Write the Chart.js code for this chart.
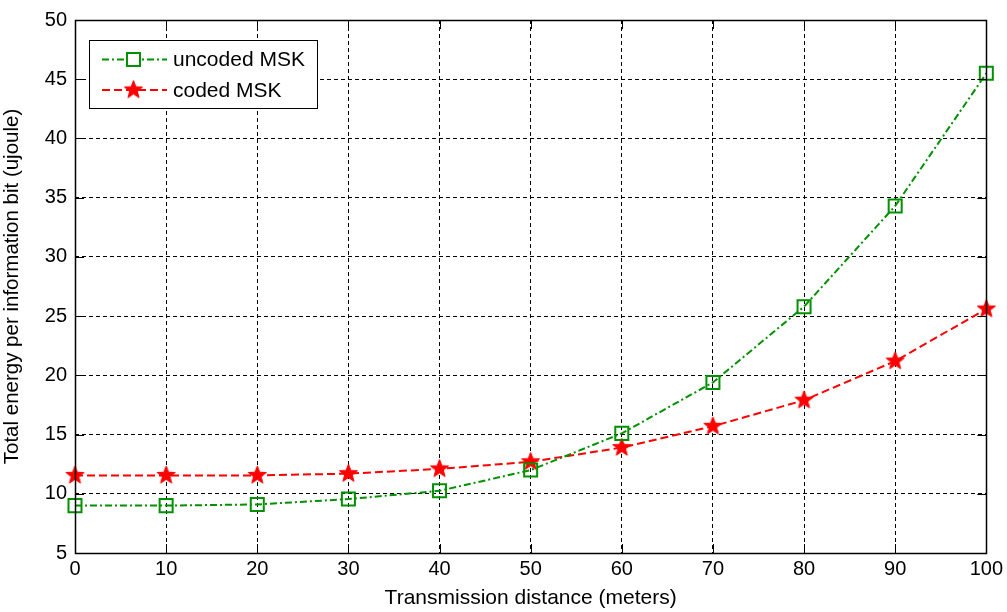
<!DOCTYPE html>
<html>
<head>
<meta charset="utf-8">
<script src="https://cdn.jsdelivr.net/npm/chart.js@4/dist/chart.umd.min.js"></script>
<style>
  html, body { margin: 0; padding: 0; background: #fff; }
  canvas { display: block; }
</style>
</head>
<body>
<canvas id="c" width="1007" height="612"></canvas>
<script>
// distances (meters)
const distances = [0, 10, 20, 30, 40, 50, 60, 70, 80, 90, 100];
// total energy per information bit (ujoule)
const uncodedMSK = [9.0, 9.0, 9.1, 9.55, 10.25, 12.0, 15.1, 19.4, 25.8, 34.3, 45.5];
const codedMSK = [11.55, 11.55, 11.55, 11.7, 12.1, 12.7, 13.9, 15.7, 17.9, 21.2, 25.6];
const seriesNames = ['uncoded MSK', 'coded MSK'];
const xTicks = [0, 10, 20, 30, 40, 50, 60, 70, 80, 90, 100];
const yTicks = [5, 10, 15, 20, 25, 30, 35, 40, 45, 50];

const GREEN = '#009100';
const RED = '#ff0000';
const FONT = 'Arial, "Liberation Sans", sans-serif';

// MATLAB-style filled pentagram marker
function makeStar(r, color) {
    const size = Math.ceil(r * 2 + 2);
    const cv = document.createElement('canvas');
    cv.width = size; cv.height = size;
    const g = cv.getContext('2d');
    const cx = size / 2, cy = size / 2, ri = r * 0.42;
    g.beginPath();
    for (let i = 0; i < 10; i++) {
        const rad = i % 2 === 0 ? r : ri;
        const a = -Math.PI / 2 + i * Math.PI / 5;
        const px = cx + rad * Math.cos(a), py = cy + rad * Math.sin(a);
        if (i === 0) g.moveTo(px, py); else g.lineTo(px, py);
    }
    g.closePath();
    g.fillStyle = color;
    g.fill();
    g.strokeStyle = color;
    g.lineWidth = 1;
    g.stroke();
    return cv;
}
const starImg = makeStar(9.5, RED);

// box + inner tick marks like MATLAB axes
const axesBox = {
    id: 'axesBox',
    afterDatasetsDraw(chart) {
        const { ctx, chartArea: a, scales } = chart;
        ctx.save();
        ctx.strokeStyle = '#000';
        ctx.lineWidth = 1;
        ctx.setLineDash([]);
        ctx.beginPath();
        const tl = 9;
        xTicks.forEach(v => {
            const x = Math.round(scales.x.getPixelForValue(v)) + 0.5;
            ctx.moveTo(x, a.bottom); ctx.lineTo(x, a.bottom - tl);
            ctx.moveTo(x, a.top); ctx.lineTo(x, a.top + tl);
        });
        yTicks.forEach(v => {
            const y = Math.round(scales.y.getPixelForValue(v)) + 0.5;
            ctx.moveTo(a.left, y); ctx.lineTo(a.left + tl, y);
            ctx.moveTo(a.right, y); ctx.lineTo(a.right - tl, y);
        });
        ctx.stroke();
        ctx.lineWidth = 1.5;
        ctx.strokeRect(Math.round(a.left) + 0.5, Math.round(a.top) + 0.5,
            Math.round(a.right - a.left), Math.round(a.bottom - a.top));
        ctx.restore();
    }
};

// legend box inside the axes, top-left
const boxLegend = {
    id: 'boxLegend',
    afterDraw(chart) {
        const { ctx } = chart;
        const bx = 89.5, by = 40.5, bw = 228, bh = 68;
        ctx.save();
        ctx.fillStyle = '#fff';
        ctx.fillRect(bx, by, bw, bh);
        ctx.strokeStyle = '#000';
        ctx.lineWidth = 1;
        ctx.setLineDash([]);
        ctx.strokeRect(bx, by, bw, bh);
        const rows = [59.5, 90];
        chart.data.datasets.forEach((ds, i) => {
            const y = rows[i];
            ctx.strokeStyle = ds.borderColor;
            ctx.lineWidth = ds.borderWidth;
            ctx.setLineDash(ds.borderDash);
            ctx.beginPath();
            ctx.moveTo(102, y); ctx.lineTo(167, y);
            ctx.stroke();
            ctx.setLineDash([]);
            if (ds.pointStyle === 'rect') {
                ctx.lineWidth = 2;
                ctx.fillStyle = '#fff';
                ctx.fillRect(127, y - 6.5, 13, 13);
                ctx.strokeRect(127, y - 6.5, 13, 13);
            } else {
                ctx.drawImage(ds.pointStyle, 133.5 - ds.pointStyle.width / 2, y - ds.pointStyle.height / 2);
            }
            ctx.fillStyle = '#000';
            ctx.font = '21px ' + FONT;
            ctx.textBaseline = 'middle';
            ctx.textAlign = 'left';
            ctx.fillText(ds.label, 173, y + 1);
        });
        ctx.restore();
    }
};

new Chart(document.getElementById('c'), {
    type: 'line',
    data: {
        labels: distances,
        datasets: [
            {
                label: seriesNames[0],
                data: distances.map((d, i) => ({ x: d, y: uncodedMSK[i] })),
                borderColor: GREEN,
                borderWidth: 2,
                borderDash: [7, 3, 2, 3],
                pointStyle: 'rect',
                pointRadius: 9.2,
                pointBorderWidth: 2,
                pointBorderColor: GREEN,
                pointBackgroundColor: 'rgba(0,0,0,0)',
                tension: 0,
                fill: false
            },
            {
                label: seriesNames[1],
                data: distances.map((d, i) => ({ x: d, y: codedMSK[i] })),
                borderColor: RED,
                borderWidth: 2,
                borderDash: [8, 4],
                pointStyle: starImg,
                pointRadius: 9,
                tension: 0,
                fill: false
            }
        ]
    },
    options: {
        responsive: false,
        animation: false,
        devicePixelRatio: 1,
        clip: false,
        layout: { padding: { top: 16, right: 17, left: 0, bottom: 0 } },
        plugins: {
            legend: { display: false },
            tooltip: { enabled: false }
        },
        scales: {
            x: {
                type: 'linear',
                min: 0, max: 100,
                afterBuildTicks: s => { s.ticks = xTicks.map(v => ({ value: v })); },
                afterFit: s => { s.height = 59; },
                ticks: { color: '#000', font: { family: FONT, size: 20 }, padding: 4, maxRotation: 0 },
                grid: { color: '#000', lineWidth: 1, drawTicks: false },
                border: { display: false, dash: [4, 3] },
                title: {
                    display: true,
                    text: 'Transmission distance (meters)',
                    color: '#000',
                    font: { family: FONT, size: 21 },
                    padding: { top: 0, bottom: 1 }
                }
            },
            y: {
                type: 'linear',
                min: 5, max: 50,
                afterBuildTicks: s => { s.ticks = yTicks.map(v => ({ value: v })); },
                afterFit: s => { s.width = 75; },
                ticks: { color: '#000', font: { family: FONT, size: 20 }, padding: 8 },
                grid: { color: '#000', lineWidth: 1, drawTicks: false },
                border: { display: false, dash: [4, 3] },
                title: {
                    display: true,
                    text: 'Total energy per information bit (ujoule)',
                    color: '#000',
                    font: { family: FONT, size: 20.5 },
                    padding: { top: 0, bottom: 2 }
                }
            }
        }
    },
    plugins: [axesBox, boxLegend]
});
</script>
</body>
</html>
